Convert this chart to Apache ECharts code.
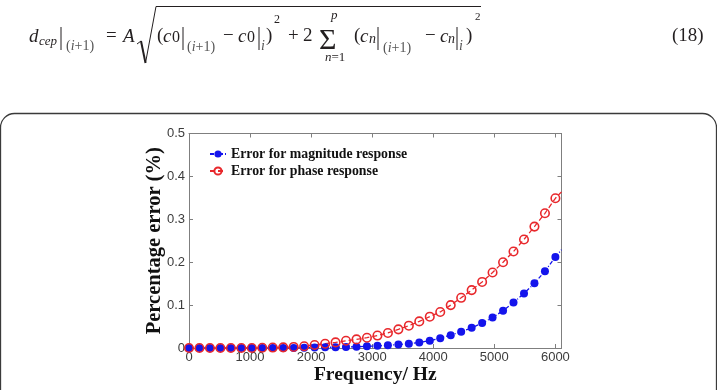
<!DOCTYPE html>
<html>
<head>
<meta charset="utf-8">
<script src="https://cdn.jsdelivr.net/npm/echarts@6.0.0/dist/echarts.min.js"></script>
<style>
  html, body { margin: 0; padding: 0; background: #fff; }
  #view1 { width: 717px; height: 390px; }
</style>
</head>
<body>
<div id="view1"></div>
<script>
// frequency points (Hz), last one is where the curve runs out of the box
var freq = [0, 171, 343, 514, 686, 857, 1029, 1200, 1371, 1543, 1714, 1886,
  2057, 2229, 2400, 2571, 2743, 2914, 3086, 3257, 3429, 3600, 3771, 3943,
  4114, 4286, 4457, 4629, 4800, 4971, 5143, 5314, 5486, 5657, 5829, 6000, 6100];

// percentage error, magnitude response (blue)
var magErr = [0, 0, 0, 0, 0, 0, 0, 0, 0, 0, 0, 0.0005,
  0.001, 0.0015, 0.002, 0.0025, 0.003, 0.004, 0.005, 0.0065, 0.008, 0.010, 0.013, 0.017,
  0.023, 0.030, 0.038, 0.047, 0.058, 0.071, 0.087, 0.106, 0.127, 0.151, 0.179, 0.212, 0.229];

// percentage error, phase response (red)
var phaseErr = [0, 0, 0, 0, 0, 0, 0, 0.0005, 0.001, 0.0015, 0.0025, 0.004,
  0.007, 0.010, 0.013, 0.017, 0.020, 0.024, 0.029, 0.035, 0.0435, 0.052, 0.062, 0.073,
  0.084, 0.100, 0.117, 0.135, 0.154, 0.176, 0.200, 0.225, 0.253, 0.283, 0.314, 0.349, 0.364];

var seriesNames = ["Error for magnitude response", "Error for phase response"];

var SERIF = '"Liberation Serif", "Times New Roman", serif';
var SANS = '"Liberation Sans", Arial, sans-serif';
var INK = '#231f20';
var SUBINK = '#555';
var AXIS = '#7f7f7f';

function pts(vals) {
  return freq.map(function (f, i) {
    if (i === freq.length - 1) return { value: [f, vals[i]], symbol: 'none' };
    return [f, vals[i]];
  });
}

// ---- formula (18) pieces ----
function tx(x, y, s, size, italic, color) {
  return {
    type: 'text', x: x, y: y, silent: true,
    style: {
      text: s, fontSize: size, fontFamily: SERIF, fontStyle: italic ? 'italic' : 'normal',
      fill: color || INK, textAlign: 'left', align: 'left',
      textVerticalAlign: 'middle', verticalAlign: 'middle'
    }
  };
}
function sub(x, y, s) {
  // "(i+1)" style subscript with italic i
  return {
    type: 'text', x: x, y: y, silent: true,
    style: {
      text: s, fill: SUBINK, textAlign: 'left', align: 'left',
      textVerticalAlign: 'middle', verticalAlign: 'middle',
      fontSize: 14, fontFamily: SERIF,
      rich: {
        u: { fontSize: 14, fontFamily: SERIF, fill: SUBINK },
        i: { fontSize: 14, fontFamily: SERIF, fontStyle: 'italic', fill: SUBINK }
      }
    }
  };
}
function bar(x, y1, y2) {
  return { type: 'line', silent: true, shape: { x1: x, y1: y1, x2: x, y2: y2 }, style: { stroke: INK, lineWidth: 1 } };
}

var mid = 36.5;
var formula = [
  tx(29, mid, 'd', 19, true),
  tx(39, 42, 'cep', 13, true),
  bar(61, 27, 50),
  sub(66, 46, '{u|(}{i|i}{u|+1)}'),
  tx(106, mid, '=', 19),
  tx(123, mid, 'A', 19, true),
  { type: 'polyline', silent: true, shape: { points: [[137, 44], [141, 41]] }, style: { stroke: INK, lineWidth: 1, fill: null } },
  { type: 'polyline', silent: true, shape: { points: [[141, 41], [145.5, 63]] }, style: { stroke: INK, lineWidth: 2, fill: null } },
  { type: 'polyline', silent: true, shape: { points: [[145.5, 63], [156, 6.5], [481, 6.5]] }, style: { stroke: INK, lineWidth: 1, fill: null } },
  tx(157, mid, '(', 19),
  tx(163, mid, 'c', 19, true),
  tx(172, 38, '0', 16),
  bar(183, 27, 50),
  sub(187, 47, '{u|(}{i|i}{u|+1)}'),
  tx(223, mid, '\u2212', 19),
  tx(238, mid, 'c', 19, true),
  tx(247, 38, '0', 16),
  bar(259, 27, 50),
  tx(261, 46, 'i', 14, true, SUBINK),
  tx(266, mid, ')', 19),
  tx(274, 20, '2', 12),
  tx(288, mid, '+', 19),
  tx(303, mid, '2', 19),
  tx(319, 41, '\u03a3', 30),
  tx(331, 16, 'p', 13, true),
  {
    type: 'text', x: 325, y: 58, silent: true,
    style: {
      text: '{i|n}{u|=1}', fill: INK, textAlign: 'left', align: 'left',
      textVerticalAlign: 'middle', verticalAlign: 'middle', fontSize: 13, fontFamily: SERIF,
      rich: {
        u: { fontSize: 13, fontFamily: SERIF },
        i: { fontSize: 13, fontFamily: SERIF, fontStyle: 'italic' }
      }
    }
  },
  tx(354, mid, '(', 19),
  tx(360, mid, 'c', 19, true),
  tx(369, 39, 'n', 14, true),
  bar(378, 27, 50),
  sub(383, 48, '{u|(}{i|i}{u|+1)}'),
  tx(425, mid, '\u2212', 19),
  tx(440, mid, 'c', 19, true),
  tx(448, 39, 'n', 14, true),
  bar(457, 27, 50),
  tx(459, 46, 'i', 14, true, SUBINK),
  tx(466, mid, ')', 19),
  tx(475, 17, '2', 11),
  tx(672, mid, '(18)', 19),
  // figure frame
  {
    type: 'rect', silent: true, z: -1,
    shape: { x: 0.5, y: 113.5, width: 716, height: 330, r: 14 },
    style: { fill: null, stroke: '#3a3a3a', lineWidth: 1.3 }
  }
];

var tickLabel = { color: '#3c3c3c', fontSize: 13, fontFamily: SANS };
var axisName = { color: '#111', fontFamily: SERIF, fontWeight: 'bold' };

var option = {
  animation: false,
  backgroundColor: '#fff',
  graphic: formula,
  grid: { left: 189, top: 133.5, width: 372.5, height: 215 },
  legend: {
    orient: 'vertical',
    left: 209,
    top: 147,
    padding: 0,
    itemWidth: 16,
    itemHeight: 9,
    itemGap: 3,
    textStyle: { fontFamily: SERIF, fontWeight: 'bold', fontSize: 13.8, color: '#111', lineHeight: 14 },
    data: seriesNames
  },
  xAxis: [{
    type: 'value',
    min: 0,
    max: 6100,
    interval: 1000,
    position: 'bottom',
    axisLine: { onZero: false, lineStyle: { color: AXIS, width: 1 } },
    axisTick: { inside: true, length: 4, lineStyle: { color: AXIS } },
    axisLabel: Object.assign({
      margin: 3, showMaxLabel: false,
      formatter: function (v) { return String(v); }
    }, tickLabel),
    splitLine: { show: false },
    name: 'Frequency/ Hz',
    nameLocation: 'middle',
    nameGap: 17,
    nameMoveOverlap: false,
    nameTextStyle: Object.assign({ fontSize: 19.5 }, axisName)
  },
  {
    type: 'value',
    min: 0,
    max: 6100,
    interval: 1000,
    position: 'top',
    axisLine: { onZero: false, lineStyle: { color: AXIS, width: 1 } },
    axisTick: { inside: true, length: 4, lineStyle: { color: AXIS } },
    axisLabel: { show: false },
    splitLine: { show: false }
  }],
  yAxis: [{
    type: 'value',
    min: 0,
    max: 0.5,
    interval: 0.1,
    position: 'left',
    axisLine: { show: true, onZero: false, lineStyle: { color: AXIS, width: 1 } },
    axisTick: { show: true, inside: true, length: 4, lineStyle: { color: AXIS } },
    axisLabel: Object.assign({ margin: 4 }, tickLabel),
    splitLine: { show: false },
    name: 'Percentage error (%)',
    nameLocation: 'middle',
    nameRotate: 90,
    nameGap: 24,
    nameMoveOverlap: false,
    nameTextStyle: Object.assign({ fontSize: 20.5 }, axisName)
  },
  {
    type: 'value',
    min: 0,
    max: 0.5,
    interval: 0.1,
    position: 'right',
    axisLine: { show: true, onZero: false, lineStyle: { color: AXIS, width: 1 } },
    axisTick: { show: true, inside: true, length: 4, lineStyle: { color: AXIS } },
    axisLabel: { show: false },
    splitLine: { show: false }
  }],
  series: [
    {
      name: seriesNames[0],
      type: 'line',
      data: pts(magErr),
      symbol: 'circle',
      symbolSize: 8,
      color: '#1414ec',
      lineStyle: { color: '#1414ec', width: 1.3, type: [4, 2, 1, 2] },
      itemStyle: { color: '#1414ec' }
    },
    {
      name: seriesNames[1],
      type: 'line',
      data: pts(phaseErr),
      symbol: 'circle',
      symbolSize: 8.5,
      color: '#e8282c',
      lineStyle: { color: '#e8282c', width: 1.3, type: [5, 3] },
      itemStyle: { color: 'rgba(255,255,255,0)', borderColor: '#e8282c', borderWidth: 1.6 }
    }
  ]
};

echarts.init(document.getElementById("view1")).setOption(option);
</script>
</body>
</html>
